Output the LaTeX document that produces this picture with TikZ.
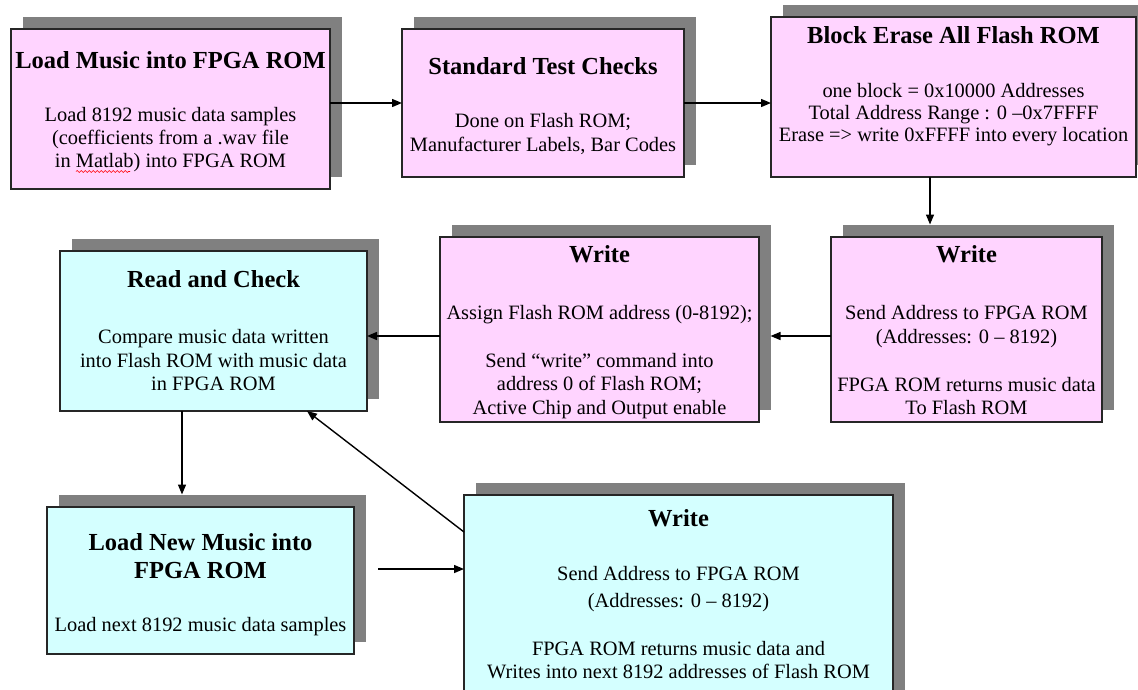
\documentclass[tikz,border=0pt]{standalone}
\usepackage{fontspec}
\setmainfont{Liberation Serif}
\usetikzlibrary{arrows.meta,decorations.pathmorphing}
\definecolor{boxpink}{RGB}{255,212,255}
\definecolor{boxcyan}{RGB}{212,255,255}
\definecolor{shade}{RGB}{128,128,128}

% a box with its grey drop shadow: name, x1, y1, x2, y2, fill colour
\newcommand\flowbox[6]{%
  \node[shadowbox, minimum width={#4-#2}, minimum height={#5-#3}]
    (#1s) at ({(#2+#4)/2+11.5},{(#3+#5)/2-12.5}) {};
  \node[frame, fill=#6, minimum width={#4-#2}, minimum height={#5-#3}]
    (#1) at ({(#2+#4)/2},{(#3+#5)/2}) {};
}

\begin{document}
\begin{tikzpicture}[x=1pt, y=-1pt,
  shadowbox/.style={rectangle, fill=shade, draw=none, inner sep=0pt, outer sep=0pt},
  frame/.style={rectangle, draw=black!85, line width=1.2pt, inner sep=0pt, outer sep=0pt},
  title/.style={anchor=base, inner sep=0pt, font=\bfseries\fontsize{24.5}{28}\selectfont},
  body/.style={anchor=base, inner sep=0pt, font=\fontsize{20.4}{24}\selectfont},
  arr/.style={line width=1.4pt, -{Triangle[length=10pt,width=8pt]}}]
\useasboundingbox (0,0) rectangle (1138,689);
\clip (0,0) rectangle (1138,689);

% boxes
\flowbox{b1}{11}{29}{330}{189}{boxpink}
\flowbox{b2}{402}{29}{684}{177}{boxpink}
\flowbox{b3}{771}{17}{1136}{177}{boxpink}
\flowbox{b4}{831}{237}{1102}{422}{boxpink}
\flowbox{b5}{440}{237}{759}{422}{boxpink}
\flowbox{b6}{60}{251}{367}{411}{boxcyan}
\flowbox{b7}{47}{507}{354}{654}{boxcyan}
\flowbox{b8}{464}{495}{893}{705}{boxcyan}

% Load Music into FPGA ROM
\node[title] (b1t) at (170.5,68) {Load Music into FPGA ROM};
\node[body] (b1a) at (170.5,121) {Load 8192 music data samples};
\node[body] (b1b) at (170.5,144) {(coefficients from a .wav file};
\node[body] (b1c) at (170.5,167) {in Matlab) into FPGA ROM};
\draw[red, line width=0.6pt, decoration={snake, segment length=4pt, amplitude=1pt}, decorate]
  (76,171.5) -- (130,171.5);

% Standard Test Checks
\node[title] (b2t) at (543,74) {Standard Test Checks};
\node[body] (b2a) at (543,127) {Done on Flash ROM;};
\node[body] (b2b) at (543,151) {Manufacturer Labels, Bar Codes};

% Block Erase All Flash ROM
\node[title] (b3t) at (953.5,43) {Block Erase All Flash ROM};
\node[body] (b3a) at (953.5,97) {one block = 0x10000 Addresses};
\node[body] (b3b) at (953.5,119) {Total Address Range : 0 –0x7FFFF};
\node[body] (b3c) at (953.5,141) {Erase => write 0xFFFF into every location};

% Write (send address)
\node[title] (b4t) at (966.5,262) {Write};
\node[body] (b4a) at (966.5,319) {Send Address to FPGA ROM};
\node[body] (b4b) at (966.5,343) {(Addresses: 0 – 8192)};
\node[body] (b4c) at (966.5,391) {FPGA ROM returns music data};
\node[body] (b4d) at (966.5,414) {To Flash ROM};

% Write (command)
\node[title] (b5t) at (599.5,262) {Write};
\node[body] (b5a) at (599.5,319) {Assign Flash ROM address (0-8192);};
\node[body] (b5b) at (599.5,367) {Send “write” command into};
\node[body] (b5c) at (599.5,390) {address 0 of Flash ROM;};
\node[body] (b5d) at (599.5,414) {Active Chip and Output enable};

% Read and Check
\node[title] (b6t) at (213.5,287) {Read and Check};
\node[body] (b6a) at (213.5,343) {Compare music data written};
\node[body] (b6b) at (213.5,367) {into Flash ROM with music data};
\node[body] (b6c) at (213.5,390) {in FPGA ROM};

% Load New Music into FPGA ROM
\node[title] (b7t) at (200.5,550) {Load New Music into};
\node[title] (b7u) at (200.5,578) {FPGA ROM};
\node[body] (b7a) at (200.5,631) {Load next 8192 music data samples};

% Write (next block)
\node[title] (b8t) at (678.5,526) {Write};
\node[body] (b8a) at (678.5,580) {Send Address to FPGA ROM};
\node[body] (b8b) at (678.5,607) {(Addresses: 0 – 8192)};
\node[body] (b8c) at (678.5,655) {FPGA ROM returns music data and};
\node[body] (b8d) at (678.5,678) {Writes into next 8192 addresses of Flash ROM};

% connectors
\coordinate (c7) at (378,569);
\draw[arr] (b1.east |- b2.west) -- (b2.west);
\draw[arr] (b2.east) -- (b3.west |- b2.east);
\draw[arr] (930,0 |- b3.south) -- (930,0 |- b4s.north);
\draw[arr] (b4.west |- 0,336) -- (b5s.east |- 0,336);
\draw[arr] (b5.west |- 0,336) -- (b6.east |- 0,336);
\draw[arr] (182,0 |- b6.south) -- (182,0 |- b7s.north);
\draw[arr] (c7) -- (b8.west |- c7);
\draw[arr] (b8.west |- 0,532) -- (307,0 |- b6.south);
\end{tikzpicture}
\end{document}
